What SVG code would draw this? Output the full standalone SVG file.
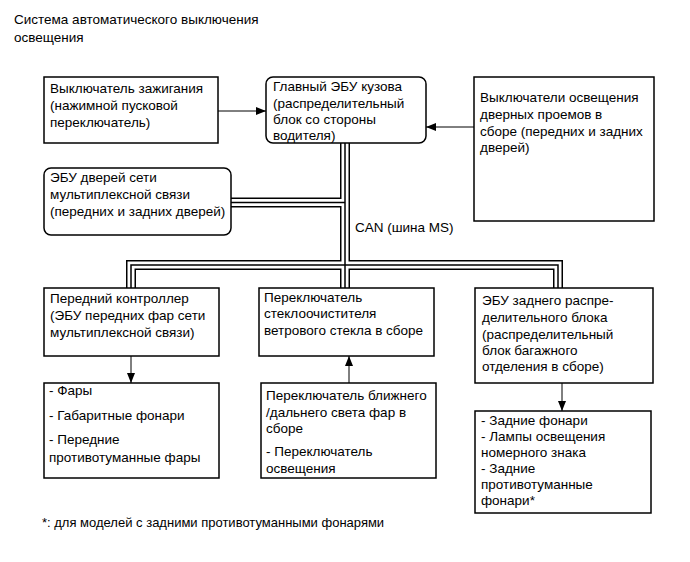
<svg xmlns="http://www.w3.org/2000/svg" width="690" height="562" viewBox="0 0 690 562">
<defs>
<marker id="ah" viewBox="0 0 10 8" refX="10" refY="4" markerWidth="10" markerHeight="8" markerUnits="userSpaceOnUse" orient="auto">
<path d="M0,0 L10,4 L0,8 Z" fill="#000"/>
</marker>
</defs>
<style>
text{font-family:"Liberation Sans",Arial,sans-serif;font-size:13.5px;fill:#000}
.fn{font-size:13px}
.box{fill:#fff;stroke:#000;stroke-width:1.5}
.arr{fill:none;stroke:#000;stroke-width:1;marker-end:url(#ah)}
.b1{fill:none;stroke:#000;stroke-width:10}
.b2{fill:none;stroke:#fff;stroke-width:7}
.b3{fill:none;stroke:#000;stroke-width:1.5}
</style>
<rect width="690" height="562" fill="#fff"/>
<text x="14" y="24">Система автоматического выключения</text>
<text x="14" y="42">освещения</text>

<g id="connectors">
<g class="b1">
<path d="M345,143 V288"/>
<path d="M231,202.5 H345"/>
<path d="M131,288 V265 H558 V288"/>
</g>
<g class="b2">
<path d="M345,140 V291"/>
<path d="M228,202.5 H345"/>
<path d="M131,291 V265 H558 V291"/>
</g>
<g class="b3">
<path d="M345,143 V288"/>
<path d="M231,202.5 H345"/>
<path d="M131,288 V265 H558 V288"/>
</g>
<line class="arr" x1="218" y1="111" x2="266" y2="111"/>
<line class="arr" x1="474" y1="127" x2="426" y2="127"/>
<line class="arr" x1="131" y1="356" x2="131" y2="383"/>
<line class="arr" x1="349" y1="383" x2="349" y2="356"/>
<line class="arr" x1="562" y1="383" x2="562" y2="411"/>
<text x="355" y="232">CAN (шина MS)</text>
</g>

<g id="ignition">
<rect class="box" x="44" y="77" width="174" height="66"/>
<text x="50" y="93">Выключатель зажигания</text>
<text x="50" y="110">(нажимной пусковой</text>
<text x="50" y="127">переключатель)</text>
</g>
<g id="main-ecu">
<rect class="box" x="266" y="77" width="160" height="66" rx="7"/>
<text x="273" y="91">Главный ЭБУ кузова</text>
<text x="273" y="107.5">(распределительный</text>
<text x="273" y="124">блок со стороны</text>
<text x="273" y="140">водителя)</text>
</g>
<g id="door-switches">
<rect class="box" x="474" y="77" width="180" height="144"/>
<text x="480" y="102">Выключатели освещения</text>
<text x="480" y="119">дверных проемов в</text>
<text x="480" y="136">сборе (передних и задних</text>
<text x="480" y="152">дверей)</text>
</g>
<g id="door-ecu">
<rect class="box" x="44" y="168" width="187" height="67" rx="7"/>
<text x="50" y="182">ЭБУ дверей сети</text>
<text x="50" y="199">мультиплексной связи</text>
<text x="50" y="216">(передних и задних дверей)</text>
</g>
<g id="front-controller">
<rect class="box" x="44" y="288" width="175" height="68"/>
<text x="50" y="303">Передний контроллер</text>
<text x="50" y="320">(ЭБУ передних фар сети</text>
<text x="50" y="337">мультиплексной связи)</text>
</g>
<g id="wiper-switch">
<rect class="box" x="259" y="288" width="175" height="68"/>
<text x="264" y="302">Переключатель</text>
<text x="264" y="318">стеклоочистителя</text>
<text x="264" y="335">ветрового стекла в сборе</text>
</g>
<g id="rear-ecu">
<rect class="box" x="475" y="288" width="178" height="95"/>
<text x="482" y="305">ЭБУ заднего распре-</text>
<text x="482" y="322">делительного блока</text>
<text x="482" y="339">(распределительный</text>
<text x="482" y="355">блок багажного</text>
<text x="482" y="371">отделения в сборе)</text>
</g>
<g id="front-lights">
<rect class="box" x="44" y="383" width="175" height="95"/>
<text x="49" y="395">- Фары</text>
<text x="49" y="420">- Габаритные фонари</text>
<text x="49" y="444">- Передние</text>
<text x="49" y="462">противотуманные фары</text>
</g>
<g id="dimmer-switch">
<rect class="box" x="261" y="383" width="175" height="95"/>
<text x="266" y="400">Переключатель ближнего</text>
<text x="266" y="417">/дальнего света фар в</text>
<text x="266" y="433">сборе</text>
<text x="266" y="456">- Переключатель</text>
<text x="266" y="473">освещения</text>
</g>
<g id="rear-lights">
<rect class="box" x="475" y="411" width="176" height="102"/>
<text x="481" y="425">- Задние фонари</text>
<text x="481" y="441">- Лампы освещения</text>
<text x="481" y="457">номерного знака</text>
<text x="481" y="473">- Задние</text>
<text x="481" y="489">противотуманные</text>
<text x="481" y="505">фонари*</text>
</g>
<text class="fn" x="42" y="527">*: для моделей с задними противотуманными фонарями</text>
</svg>
